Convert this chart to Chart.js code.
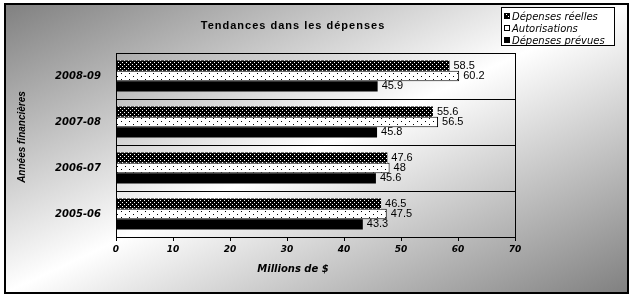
<!DOCTYPE html>
<html>
<head>
<meta charset="utf-8">
<script src="https://cdn.jsdelivr.net/npm/chart.js@4"></script>
<style>
  body { margin: 0; background: #fff; }
  #wrap { width: 636px; height: 298px; position: relative; }
</style>
</head>
<body>
<div id="wrap"><canvas id="id-chartDepenses"></canvas></div>
<script>
// ----------------------------- data -----------------------------
var years = ["2008-09", "2007-08", "2006-07", "2005-06"];
var depensesReelles = [58.5, 55.6, 47.6, 46.5];
var autorisations = [60.2, 56.5, 48, 47.5];
var depensesPrevues = [45.9, 45.8, 45.6, 43.3];
var xTicks = [0, 10, 20, 30, 40, 50, 60, 70];
var seriesNames = ["Dépenses réelles", "Autorisations", "Dépenses prévues"];

// ----------------------------- patterns -----------------------------
function makePattern(w, h, bg, fg, dots) {
  var c = document.createElement("canvas");
  c.width = w; c.height = h;
  var g = c.getContext("2d");
  g.fillStyle = bg; g.fillRect(0, 0, w, h);
  g.fillStyle = fg;
  dots.forEach(function(d) { g.fillRect(d[0], d[1], 1, 1); });
  return document.createElement("canvas").getContext("2d").createPattern(c, "repeat");
}
var patReelles = makePattern(4, 4, "#000", "#fff", [[0, 0], [2, 2]]);
var patAutor = makePattern(8, 6, "#fff", "#000", [[1, 1], [5, 4]]);

// ----------------------------- plugins -----------------------------
var backgroundPlugin = {
  id: "background",
  beforeDraw: function(chart) {
    var ctx = chart.ctx, W = chart.width, H = chart.height;
    ctx.save();
    ctx.fillStyle = "#fff";
    ctx.fillRect(0, 0, W, H);
    var x0 = 5, y0 = 4, x1 = 628, y1 = 293;
    var cx = (x0 + x1) / 2, cy = (y0 + y1) / 2;
    var dx = y1 - y0, dy = x1 - x0, len = Math.sqrt(dx * dx + dy * dy);
    var ux = dx / len, uy = dy / len;
    var k = ((cx - x0) * ux + (cy - y0) * uy);
    var grad = ctx.createLinearGradient(cx - k * ux, cy - k * uy, cx + k * ux, cy + k * uy);
    grad.addColorStop(0, "#808080");
    grad.addColorStop(0.5, "#ffffff");
    grad.addColorStop(1, "#808080");
    ctx.fillStyle = grad;
    ctx.fillRect(x0, y0, x1 - x0, y1 - y0);
    ctx.restore();
  },
  afterDraw: function(chart) {
    var ctx = chart.ctx, a = chart.chartArea;
    ctx.save();
    // plot frame
    ctx.strokeStyle = "#000";
    ctx.lineWidth = 1;
    ctx.strokeRect(Math.round(a.left) + 0.5, Math.round(a.top) + 0.5,
      Math.round(a.right - a.left), Math.round(a.bottom - a.top));
    // outer border
    ctx.lineWidth = 2;
    ctx.strokeRect(5, 4, 623, 289);

    // title
    ctx.fillStyle = "#000";
    ctx.letterSpacing = "1px";
    ctx.font = "bold 11px 'Liberation Sans'";
    ctx.textAlign = "center";
    ctx.textBaseline = "middle";
    ctx.fillText("Tendances dans les dépenses", 293, 26);
    ctx.letterSpacing = "0px";

    // axis titles
    ctx.font = "italic bold 10px 'DejaVu Sans'";
    ctx.fillText("Millions de $", 293, 269);
    ctx.save();
    ctx.translate(22, 137);
    ctx.rotate(-Math.PI / 2);
    ctx.font = "italic bold 10px 'Liberation Sans'";
    ctx.fillText("Années financières", 0, 0);
    ctx.restore();

    // legend
    ctx.fillStyle = "#fff";
    ctx.fillRect(502, 7, 113, 38);
    ctx.lineWidth = 1;
    ctx.strokeStyle = "#000";
    ctx.strokeRect(501.5, 7.5, 113, 38);
    var fills = [patReelles, "#fff", "#000"];
    ctx.font = "italic 10px 'DejaVu Sans'";
    ctx.textAlign = "left";
    for (var i = 0; i < seriesNames.length; i++) {
      var yy = 16 + i * 12;
      ctx.fillStyle = fills[i];
      ctx.fillRect(504, yy - 3, 6, 6);
      ctx.strokeStyle = "#000";
      ctx.strokeRect(504.5, yy - 2.5, 5, 5);
      ctx.fillStyle = "#000";
      ctx.fillText(seriesNames[i], 512, yy + 1);
    }
    ctx.restore();
  }
};

var valueLabels = {
  id: "valueLabels",
  afterDatasetsDraw: function(chart) {
    var ctx = chart.ctx;
    ctx.save();
    ctx.font = "11px 'Liberation Sans'";
    ctx.fillStyle = "#000";
    ctx.textAlign = "left";
    ctx.textBaseline = "middle";
    chart.data.datasets.forEach(function(ds, i) {
      chart.getDatasetMeta(i).data.forEach(function(el, j) {
        ctx.fillText(String(ds.data[j]), el.x + 4, el.y);
      });
    });
    ctx.restore();
  }
};

// ----------------------------- chart start -----------------------------
var tickFont = {family: "DejaVu Sans", weight: "bold", style: "italic"};
new Chart("id-chartDepenses", {
  type: "bar",
  data: {
    labels: years,
    datasets: [
      {label: seriesNames[0], data: depensesReelles, backgroundColor: patReelles, borderWidth: 0},
      {label: seriesNames[1], data: autorisations, backgroundColor: patAutor, borderColor: "#000", borderWidth: 1},
      {label: seriesNames[2], data: depensesPrevues, backgroundColor: "#000", borderWidth: 0}
    ]
  },
  options: {
    indexAxis: "y",
    responsive: true,
    maintainAspectRatio: false,
    animation: false,
    layout: {padding: {top: 53, right: 121, left: 0, bottom: 0}},
    datasets: {bar: {categoryPercentage: 0.67, barPercentage: 1}},
    plugins: {legend: {display: false}, title: {display: false}, tooltip: {enabled: false}},
    scales: {
      x: {
        min: 0, max: 70,
        afterBuildTicks: function(s) { s.ticks = xTicks.map(function(v) { return {value: v}; }); },
        ticks: {color: "#000", padding: 3, font: Object.assign({size: 9}, tickFont)},
        grid: {drawOnChartArea: false, color: "#000", tickLength: 4},
        border: {color: "#000"},
        afterFit: function(s) { s.height = 61; }
      },
      y: {
        ticks: {color: "#000", padding: 15, font: Object.assign({size: 10}, tickFont)},
        grid: {color: "#000", drawTicks: false, tickLength: 0},
        border: {color: "#000"},
        afterFit: function(s) { s.width = 116; }
      }
    }
  },
  plugins: [backgroundPlugin, valueLabels]
});
// ----------------------------- chart end -----------------------------
</script>
</body>
</html>
